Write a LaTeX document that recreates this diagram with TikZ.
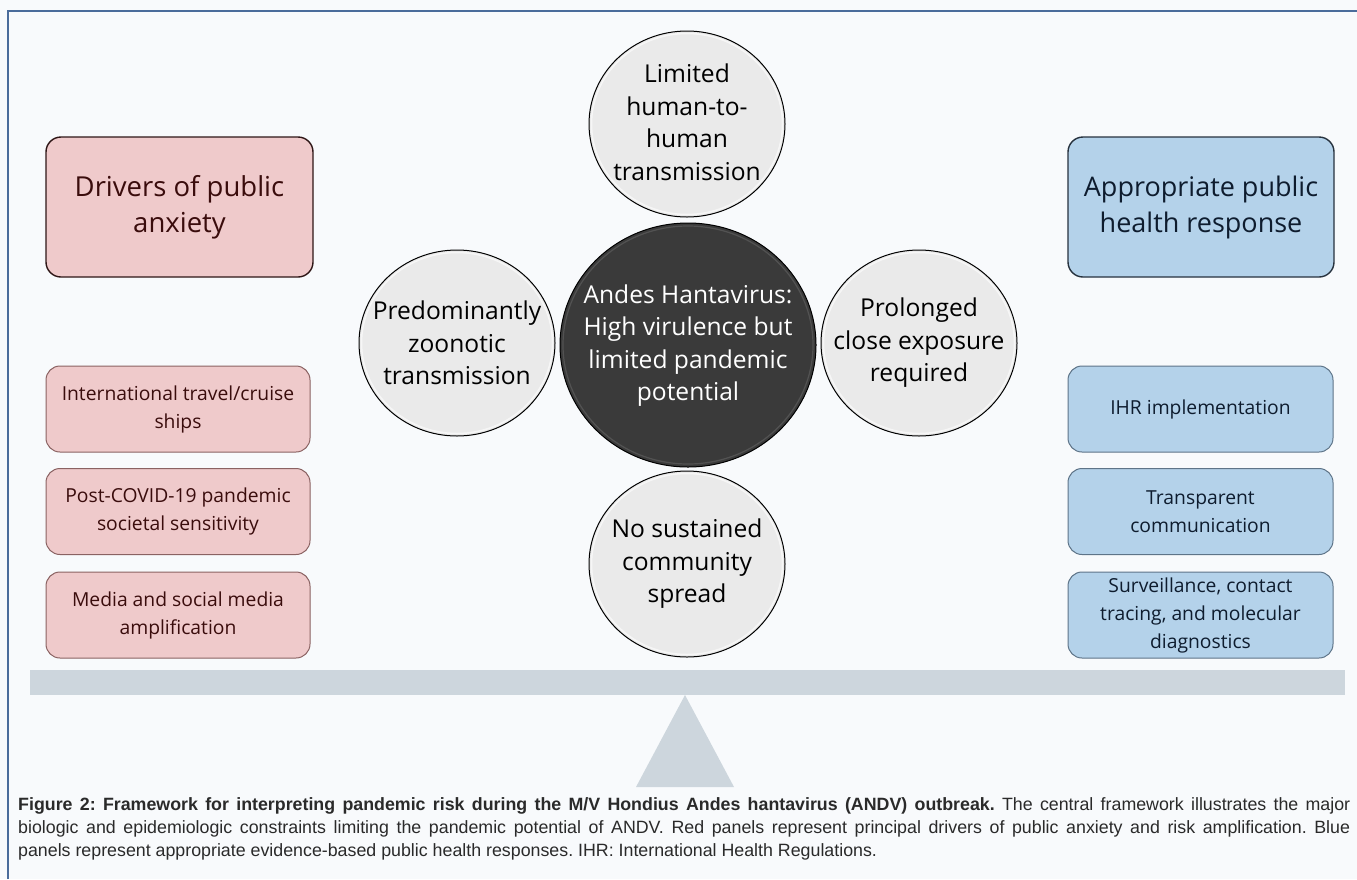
\documentclass[tikz,border=0pt]{standalone}
\usepackage{fontspec}
\setmainfont{Open Sans}
\newfontfamily\capfont{Liberation Sans}
\definecolor{bgc}{HTML}{F8FAFC}
\definecolor{framec}{HTML}{4A6C9B}
\definecolor{redfill}{HTML}{EFCACB}
\definecolor{redline}{HTML}{2E1616}
\definecolor{redthin}{HTML}{8A6262}
\definecolor{redtext}{HTML}{3A0C0C}
\definecolor{bluefill}{HTML}{B4D2EA}
\definecolor{blueline}{HTML}{27323E}
\definecolor{bluethin}{HTML}{5E7488}
\definecolor{bluetext}{HTML}{0E1C2E}
\definecolor{circfill}{HTML}{EAEAEA}
\definecolor{darkfill}{HTML}{3A3A3A}
\definecolor{beamc}{HTML}{CDD6DD}
\definecolor{captext}{HTML}{2A2A2A}
\begin{document}
\begin{tikzpicture}[x=1pt,y=-1pt,
  redtitle/.style={draw=redline, line width=1.4pt, fill=redfill, rounded corners=15pt,
    minimum width=267pt, minimum height=140pt, align=center, text=redtext,
    font=\fontsize{27.5}{36}\selectfont},
  redbox/.style={draw=redthin, line width=1pt, fill=redfill, rounded corners=14pt,
    minimum width=264pt, minimum height=86pt, align=center, text=redtext,
    font=\fontsize{19.3}{28}\selectfont},
  bluetitle/.style={draw=blueline, line width=1.4pt, fill=bluefill, rounded corners=15pt,
    minimum width=266pt, minimum height=140pt, align=center, text=bluetext,
    font=\fontsize{27}{36}\selectfont},
  bluebox/.style={draw=bluethin, line width=1pt, fill=bluefill, rounded corners=14pt,
    minimum width=265pt, minimum height=86pt, align=center, text=bluetext,
    font=\fontsize{19.3}{28}\selectfont},
  circshape/.style={draw=black, line width=1pt, fill=circfill},
  darkshape/.style={draw=black, line width=1pt, fill=darkfill},
  circtext/.style={inner sep=0pt, align=center, text=black,
    font=\fontsize{24.6}{32.5}\selectfont},
  darktext/.style={inner sep=0pt, align=center, text=white,
    font=\fontsize{24.6}{32.5}\selectfont},
  bevel/.style={draw=white, line width=1.5pt, opacity=0.6}
]
\useasboundingbox (0,0) rectangle (1357,879);
\fill[bgc] (0,0) rectangle (1357,879);
\draw[framec, line width=1.8pt] (8,879) -- (8,11) -- (1357,11);

% left panels
\node[redtitle] (drv) at (179.5,207) {Drivers of public\\anxiety};
\node[redbox] (r1) at (178,409) {International travel/cruise\\ships};
\node[redbox] (r2) at (178,511.5) {Post-COVID-19 pandemic\\societal sensitivity};
\node[redbox] (r3) at (178,615) {Media and social media\\amplification};

% right panels
\node[bluetitle] (resp) at (1201,207) {Appropriate public\\health response};
\node[bluebox] (b1) at (1200.5,409) {IHR implementation};
\node[bluebox] (b2) at (1200.5,511.5) {Transparent\\communication};
\node[bluebox] (b3) at (1200.5,615) {Surveillance, contact\\tracing, and molecular\\diagnostics};

% circles
\coordinate (ctop) at (687,124);
\coordinate (cleft) at (457,343);
\coordinate (cright) at (919,343);
\coordinate (cbot) at (687,564);
\coordinate (ccore) at (688,345);
\foreach \n in {ctop,cleft,cright,cbot}{
  \path[circshape] (\n) ellipse [x radius=98pt, y radius=93pt];
  \draw[bevel] (\n) ellipse [x radius=95.5pt, y radius=90.5pt];
}
\path[darkshape] (ccore) ellipse [x radius=128pt, y radius=122pt];
\draw[draw=gray, line width=1.2pt, opacity=0.35] (ccore) ellipse [x radius=125pt, y radius=119pt];

\node[circtext] (top) at ([yshift=1.5pt]ctop) {Limited\\human-to-\\human\\transmission};
\node[circtext] (left) at (cleft) {Predominantly\\zoonotic\\transmission};
\node[circtext] (right) at (cright) {Prolonged\\close exposure\\required};
\node[circtext] (bot) at (cbot) {No sustained\\community\\spread};
\node[darktext] (core) at ([yshift=-0.5pt]ccore) {Andes Hantavirus:\\High virulence but\\limited pandemic\\potential};

% balance
\fill[beamc] (30,670) rectangle (1345,695);
\coordinate (apex) at (685,695);
\fill[beamc] (apex) -- (636,787) -- (734,787) -- cycle;

% caption
\node[anchor=north west, inner sep=0pt, text width=1332pt, align=justify, text=captext,
  font=\capfont\fontsize{17.8}{23}\selectfont\frenchspacing] (cap) at (18,797)
  {\textbf{Figure 2: Framework for interpreting pandemic risk during the M/V Hondius Andes hantavirus (ANDV) outbreak.} The central framework illustrates the major\linebreak
  biologic and epidemiologic constraints limiting the pandemic potential of ANDV. Red panels represent principal drivers of public anxiety and risk amplification. Blue\linebreak
  panels represent appropriate evidence-based public health responses. IHR: International Health Regulations.};
\end{tikzpicture}
\end{document}
